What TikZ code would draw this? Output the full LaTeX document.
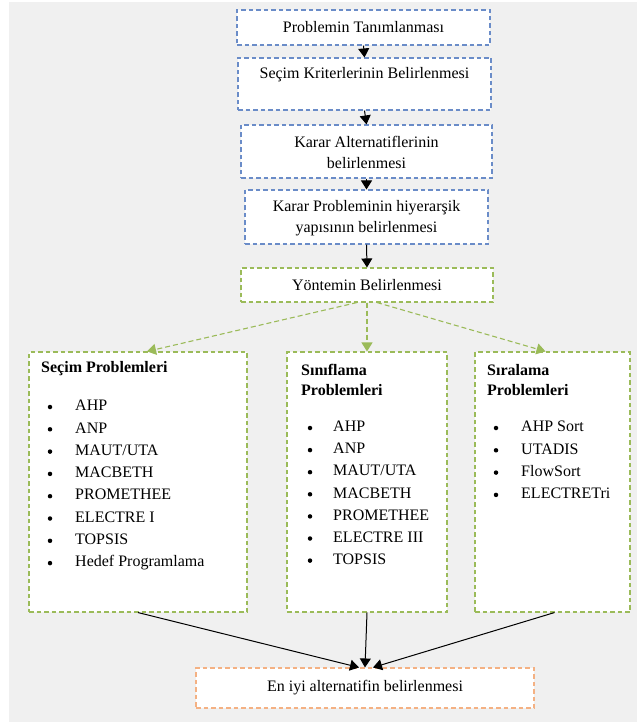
\documentclass[tikz,border=0pt]{standalone}
\usepackage{fontspec}
\setmainfont{Liberation Serif}
\usetikzlibrary{arrows.meta,calc}
\definecolor{bgc}{HTML}{F0F0F0}
\definecolor{bluec}{HTML}{6A8CC8}
\definecolor{greenc}{HTML}{9BBB59}
\definecolor{orangec}{HTML}{F4B183}
\begin{document}
\begin{tikzpicture}[x=1pt,y=-1pt,
  font=\fontsize{16}{21}\selectfont,
  bluebox/.style={draw=bluec, fill=white, dash pattern=on 4.5pt off 3pt, line width=1.1pt, inner sep=0pt},
  greenbox/.style={draw=greenc, fill=white, dash pattern=on 4.5pt off 3pt, line width=1.1pt, inner sep=0pt},
  orangebox/.style={draw=orangec, fill=white, dash pattern=on 4.5pt off 3pt, line width=1.1pt, inner sep=0pt},
  label/.style={inner sep=0pt, align=center},
  item/.style={anchor=west, inner sep=0pt, text height=10.5pt, text depth=3pt},
  bul/.style={circle, fill=black, inner sep=0pt, minimum size=4.5pt},
  head/.style={anchor=west, inner sep=0pt, align=left, font=\fontsize{16}{20}\selectfont\bfseries},
  blackarrow/.style={draw=black, line width=1pt, -{Triangle[width=11pt,length=9pt]}},
  greenarrow/.style={draw=greenc, line width=1.1pt, dash pattern=on 5pt off 3pt, -{Triangle[width=11pt,length=9pt,fill=greenc]}}
]
\useasboundingbox (0,0) rectangle (637,727);
\fill[bgc] (9,2) rectangle (637,722);

% top chain
\node[bluebox, minimum width=253pt, minimum height=35pt] (b1) at (363.5,27.5) {};
\node[label] (t1) at (363.5,27) {Problemin Tanımlanması};
\node[bluebox, minimum width=253pt, minimum height=52pt] (b2) at (364.5,84) {};
\node[label] (t2) at (364.5,75) {Seçim Kriterlerinin Belirlenmesi};
\node[bluebox, minimum width=251pt, minimum height=53pt] (b3) at (366.5,151.5) {};
\node[label] (t3) at (366.5,152) {Karar Alternatiflerinin\\belirlenmesi};
\node[bluebox, minimum width=243pt, minimum height=54pt] (b4) at (366.5,217) {};
\node[label] (t4) at (366.5,218) {Karar Probleminin hiyerarşik\\yapısının belirlenmesi};
\node[greenbox, minimum width=252pt, minimum height=34pt] (b5) at (367,285) {};
\node[label] (t5) at (367,285) {Yöntemin Belirlenmesi};

\draw[blackarrow] (b1.south) -- (b2.north);
\draw[blackarrow] (b2.south) -- (b3.north);
\draw[blackarrow] (b3.south) -- (b4.north);
\draw[blackarrow] (b4.south) -- (b5.north);

% category boxes
\node[greenbox, minimum width=218pt, minimum height=260pt] (L) at (138,482) {};
\node[greenbox, minimum width=160pt, minimum height=260pt] (M) at (367,482) {};
\node[greenbox, minimum width=155pt, minimum height=260pt] (R) at (552.5,482) {};

\coordinate (gs1) at ($(b5.south)+(-10,0)$);
\coordinate (gs3) at ($(b5.south)+(10,0)$);
\coordinate (ge1) at ($(L.north)+(9,0)$);
\coordinate (ge3) at ($(R.north)+(-7,0)$);
\draw[greenarrow] (gs1) -- (ge1);
\draw[greenarrow] (b5.south) -- (M.north);
\draw[greenarrow] (gs3) -- (ge3);

\node[head] (hL) at (41,369) {Seçim Problemleri};
\node[head] (hM) at (301,380) {Sınıflama\\Problemleri};
\node[head] (hR) at (487,380) {Sıralama\\Problemleri};

\foreach \t [count=\i] in {AHP,ANP,MAUT/UTA,MACBETH,PROMETHEE,ELECTRE I,TOPSIS,Hedef Programlama}{
  \node[bul] (lb\i) at (50,{407+22.3*(\i-1)}) {};
  \node[item] (li\i) at (75,{407+22.3*(\i-1)}) {\t};
}
\foreach \t [count=\i] in {AHP,ANP,MAUT/UTA,MACBETH,PROMETHEE,ELECTRE III,TOPSIS}{
  \node[bul] (mb\i) at (310,{428+22.1*(\i-1)}) {};
  \node[item] (mi\i) at (333,{428+22.1*(\i-1)}) {\t};
}
\foreach \t [count=\i] in {AHP Sort,UTADIS,FlowSort,ELECTRETri}{
  \node[bul] (rb\i) at (496,{428+22.3*(\i-1)}) {};
  \node[item] (ri\i) at (521,{428+22.3*(\i-1)}) {\t};
}

% final
\node[orangebox, minimum width=338pt, minimum height=40pt] (B) at (365,688) {};
\node[label] (tB) at (365,688) {En iyi alternatifin belirlenmesi};

\coordinate (be1) at ($(B.north)+(-6,0)$);
\coordinate (be3) at ($(B.north)+(8,0)$);
\draw[blackarrow] (L.south) -- (be1);
\draw[blackarrow] (M.south) -- (B.north);
\draw[blackarrow] ($(R.south)+(2,0)$) -- (be3);
\end{tikzpicture}
\end{document}
